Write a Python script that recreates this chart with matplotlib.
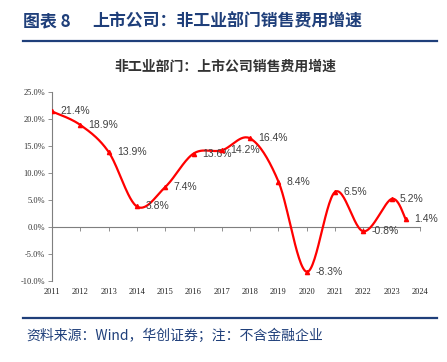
import numpy as np
import matplotlib
matplotlib.use('Agg')
import matplotlib.pyplot as plt
from matplotlib.lines import Line2D

plt.rcParams['font.family'] = ['Noto Sans CJK SC', 'DejaVu Sans']

years = [2011, 2012, 2013, 2014, 2015, 2016, 2017, 2018, 2019, 2020, 2021, 2022, 2023, 2024]
x_pos = [0, 1, 2, 3, 4, 5, 6, 7, 8, 9, 10, 11, 12, 12.5]
growth = [21.4, 18.9, 13.9, 3.8, 7.4, 13.6, 14.2, 16.4, 8.4, -8.3, 6.5, -0.8, 5.2, 1.4]
y_ticks = [-10, -5, 0, 5, 10, 15, 20, 25]

NAVY = '#1f3f7a'
RED = '#ff0000'
SERIF = ['Liberation Serif', 'DejaVu Serif']


def smooth(xs, ys, n=30):
    # bezier smoothing like the office chart "smoothed line"
    pts = np.column_stack([np.asarray(xs, float), np.asarray(ys, float)])
    out = []
    for i in range(len(pts) - 1):
        p0 = pts[max(i - 1, 0)]
        p1 = pts[i]
        p2 = pts[i + 1]
        p3 = pts[min(i + 2, len(pts) - 1)]
        c1 = p1 + (p2 - p0) / 6.0
        c2 = p2 - (p3 - p1) / 6.0
        t = np.linspace(0, 1, n)[:, None]
        seg = ((1 - t) ** 3) * p1 + 3 * ((1 - t) ** 2) * t * c1 + 3 * (1 - t) * t ** 2 * c2 + t ** 3 * p2
        out.append(seg if i == 0 else seg[1:])
    seg = np.vstack(out)
    return seg[:, 0], seg[:, 1]


fig = plt.figure(figsize=(4.47, 3.62), dpi=100)
fig.patch.set_facecolor('white')

# header / footer
fig.text(23 / 447, 1 - 21 / 362, '图表 8', fontsize=12.2, fontweight='bold',
         color=NAVY, va='center', ha='left')
fig.text(92 / 447, 1 - 21 / 362, '上市公司：非工业部门销售费用增速',
         fontsize=12.2, fontweight='bold', color=NAVY, va='center', ha='left')
fig.add_artist(Line2D([23 / 447, 437 / 447], [1 - 41 / 362] * 2, color=NAVY, lw=1.6))
fig.text(225 / 447, 1 - 67 / 362, '非工业部门：上市公司销售费用增速',
         fontsize=10, fontweight='bold', color='#333333', va='center', ha='center')
fig.add_artist(Line2D([23 / 447, 437 / 447], [1 - 318 / 362] * 2, color=NAVY, lw=1.6))
fig.text(26 / 447, 1 - 336 / 362, '资料来源：Wind，华创证券；注：不含金融企业',
         fontsize=10, color=NAVY, style='italic', va='center', ha='left')

ax = fig.add_axes([52 / 447, 1 - 281 / 362, (420 - 52) / 447, (281 - 92) / 362])

sx, sy = smooth(x_pos, growth)
ax.plot(sx, sy, color=RED, lw=1.6, zorder=3)
ax.plot(x_pos, growth, ls='none', marker='^', ms=3, color=RED, zorder=4)

for xv, yv in zip(x_pos, growth):
    ax.annotate(f'{yv:.1f}%', (xv, yv), xytext=(6, 0), textcoords='offset points',
                fontsize=7.5, color='#404040', va='center', ha='left',
                family=['Liberation Sans', 'DejaVu Sans'])

ax.set_xlim(0, 13)
ax.set_ylim(-10, 25)
ax.set_xticks(range(len(years)))
ax.set_xticklabels([str(y) for y in years])
ax.set_yticks(y_ticks)
ax.set_yticklabels([f'{v:.1f}%' for v in y_ticks])

ax.spines['top'].set_visible(False)
ax.spines['right'].set_visible(False)
ax.spines['bottom'].set_position(('data', 0))
for s in ['left', 'bottom']:
    ax.spines[s].set_color('#7f7f7f')
    ax.spines[s].set_linewidth(0.8)
ax.tick_params(axis='y', length=3, width=0.6, color='#7f7f7f', pad=2,
               labelsize=6, labelcolor='#333333')
ax.tick_params(axis='x', length=3, width=0.6, color='#7f7f7f', pad=41,
               labelsize=6, labelcolor='#222222')
for lab in ax.get_xticklabels() + ax.get_yticklabels():
    lab.set_family(SERIF)

fig.savefig('out.png', dpi=100, facecolor='white')
